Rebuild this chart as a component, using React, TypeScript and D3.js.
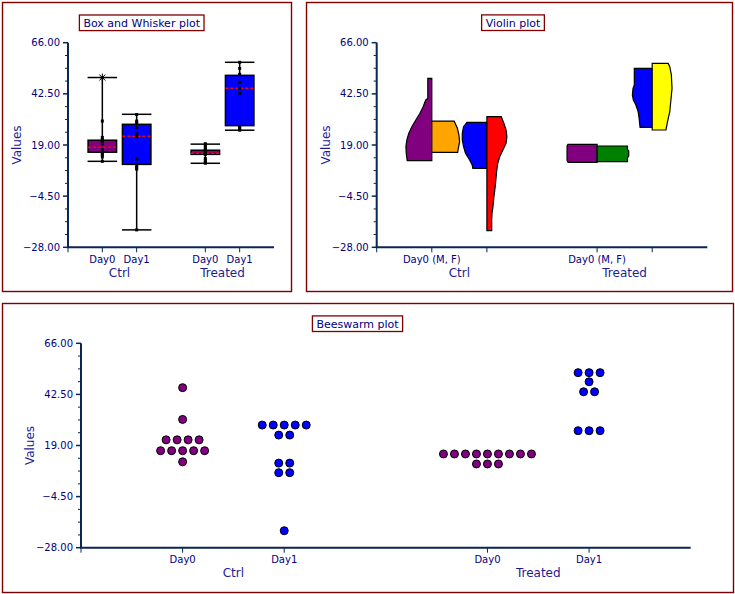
import React, { useLayoutEffect, useRef, useState } from 'react';
import * as d3 from 'd3';

// ---------- data ----------
const yTicks = [-28, -4.5, 19, 42.5, 66];
const groups = ['Ctrl', 'Treated'];
const days = ['Day0', 'Day1'];

// box & whisker statistics (Ctrl Day0, Ctrl Day1, Treated Day0, Treated Day1)
const boxLow = [11.5, -20, 10.6, 25.8];
const boxQ1 = [15.7, 10.1, 14.7, 27.9];
const boxMedian = [18.0, 23.0, 15.2, 45.1];
const boxQ3 = [21.2, 28.5, 16.6, 51.0];
const boxHigh = [50, 33.1, 19.4, 57];
const boxOutliers = [[50], [], [], []];

const pointsCtrlDay0 = [50, 30, 22.5, 21.5, 20.5, 19.5, 17, 16, 15, 14.5, 13.5, 11.5];
const pointsCtrlDay1 = [33, 30, 29.2, 27.1, 24.2, 23.5, 22.8, 12.4, 9.3, 8.6, 7.9, -20];
const pointsTreatedDay0 = [19.6, 18.8, 17.8, 17.0, 16.4, 15.8, 15.2, 14.7, 12.8, 11.8, 11.0, 10.6];
const pointsTreatedDay1 = [57, 54.2, 51.5, 47.8, 45.1, 42.8, 27.3, 26.5, 25.8];
const boxPoints = [pointsCtrlDay0, pointsCtrlDay1, pointsTreatedDay0, pointsTreatedDay1];

// violin density profiles [value, relative density] for M (left) and F (right) halves
const violinCtrlDay0M: [number, number][] = [[49.6, 0.125], [40.4, 0.125], [39.7, 0.19], [36.6, 0.27], [33.5, 0.375], [30.5, 0.5], [27.4, 0.625], [24.4, 0.72], [21.3, 0.78], [18.3, 0.81], [15.2, 0.8], [11.8, 0.77]];
const violinCtrlDay0F: [number, number][] = [[30.0, 0.7], [29.0, 0.73], [26.7, 0.8], [23.6, 0.85], [20.5, 0.87], [17.5, 0.83], [15.6, 0.81]];
const violinCtrlDay1M: [number, number][] = [[29.4, 0.625], [27.4, 0.73], [24.4, 0.77], [21.3, 0.77], [18.3, 0.73], [15.2, 0.67], [12.1, 0.54], [9.8, 0.46], [8.3, 0.44]];
const violinCtrlDay1F: [number, number][] = [[32.0, 0.45], [29.0, 0.53], [25.9, 0.6], [22.8, 0.625], [19.8, 0.6], [16.7, 0.5], [13.6, 0.4], [10.6, 0.34], [7.5, 0.31], [4.5, 0.29], [-0.1, 0.26], [-4.7, 0.22], [-9.3, 0.19], [-12.4, 0.16], [-15.4, 0.15], [-20.3, 0.15]];
const violinTreatedDay0M: [number, number][] = [[19.3, 0.91], [18.5, 0.94], [12.0, 0.94], [11.05, 0.91]];
const violinTreatedDay0F: [number, number][] = [[18.55, 0.95], [17.0, 0.95], [16.3, 0.99], [14.0, 0.99], [13.0, 0.95], [11.35, 0.95]];
const violinTreatedDay1M: [number, number][] = [[54.2, 0.56], [46.6, 0.56], [45.0, 0.6], [42.0, 0.62], [39.7, 0.59], [37.4, 0.51], [34.3, 0.44], [31.3, 0.41], [27.1, 0.38]];
const violinTreatedDay1F: [number, number][] = [[56.5, 0.5], [55.0, 0.55], [51.2, 0.6], [45.0, 0.62], [38.9, 0.58], [34.3, 0.55], [29.7, 0.48], [25.9, 0.43]];
const violinM = [violinCtrlDay0M, violinCtrlDay1M, violinTreatedDay0M, violinTreatedDay1M];
const violinF = [violinCtrlDay0F, violinCtrlDay1F, violinTreatedDay0F, violinTreatedDay1F];

// beeswarm rows [value, count]
const beeCtrlDay0: [number, number][] = [[45.6, 1], [31.0, 1], [21.6, 4], [16.6, 5], [11.5, 1]];
const beeCtrlDay1: [number, number][] = [[28.4, 5], [23.8, 2], [10.9, 2], [6.5, 2], [-20.2, 1]];
const beeTreatedDay0: [number, number][] = [[15.1, 9], [10.5, 3]];
const beeTreatedDay1: [number, number][] = [[52.5, 3], [48.3, 1], [43.7, 2], [25.8, 3]];
const beeRows = [beeCtrlDay0, beeCtrlDay1, beeTreatedDay0, beeTreatedDay1];

// ---------- styles ----------
const dayColors = ['#800080', '#0000ff'];
const femaleColors = ['#ffa500', '#ff0000', '#008000', '#ffff00'];
const navy = '#000080';
const axisColor = '#0a2656';
const frameColor = '#800000';
const labelColor = '#1c1c96';
const font = "'DejaVu Sans', Verdana, sans-serif";

const cats = groups.flatMap((g, gi) => days.map((d, di) => ({ g, gi, d, di, idx: gi * 2 + di, slot: gi * 3 + di + 1 })));

type Lin = d3.ScaleLinear<number, number>;

function TitleBox({ cx, cy, text }: { cx: number; cy: number; text: string }) {
  const ref = useRef<SVGTextElement>(null);
  const [w, setW] = useState(text.length * 6);
  useLayoutEffect(() => {
    if (ref.current) setW(ref.current.getComputedTextLength());
  }, [text]);
  return (
    <g>
      <rect x={cx - w / 2 - 4} y={cy - 7.8} width={w + 8} height={15.6} fill="#fff" stroke={frameColor} strokeWidth={1.3} />
      <text ref={ref} x={cx} y={cy + 4} textAnchor="middle" fontSize={11} fill={navy}>{text}</text>
    </g>
  );
}

function Axes({ x, y, catLabel }: { x: Lin; y: Lin; catLabel: (c: typeof cats[number]) => string | null }) {
  const [x0, x1] = x.range();
  const [yb, yt] = y.range();
  const minor = d3.pairs(yTicks).flatMap(([a, b]) => [1, 2, 3].map((k) => a + ((b - a) * k) / 4));
  const fmt = d3.format('.2f');
  return (
    <g>
      {minor.map((t, i) => (
        <line key={'m' + i} x1={x0 - 3} x2={x0} y1={y(t)} y2={y(t)} stroke={axisColor} strokeWidth={1} />
      ))}
      {yTicks.map((t) => (
        <g key={t}>
          <line x1={x0 - 5} x2={x0} y1={y(t)} y2={y(t)} stroke={axisColor} strokeWidth={1.5} />
          <text x={x0 - 8} y={y(t) + 3.6} textAnchor="end" fontSize={10} fill={navy}>{fmt(t)}</text>
        </g>
      ))}
      <line x1={x0} x2={x0} y1={yt} y2={yb} stroke={axisColor} strokeWidth={2} />
      <line x1={x0 - 1} x2={x1} y1={yb} y2={yb} stroke={axisColor} strokeWidth={2} />
      <line x1={x0} x2={x0} y1={yb} y2={yb + 5} stroke={axisColor} strokeWidth={1} />
      {cats.map((c) => (
        <g key={c.idx}>
          <line x1={x(c.slot)} x2={x(c.slot)} y1={yb} y2={yb + 5} stroke={axisColor} strokeWidth={1} />
          {catLabel(c) && (
            <text x={x(c.slot)} y={yb + 15.7} textAnchor="middle" fontSize={10} fill={navy}>{catLabel(c)}</text>
          )}
        </g>
      ))}
      {groups.map((g, gi) => (
        <text key={g} x={(x(gi * 3 + 1) + x(gi * 3 + 2)) / 2} y={yb + 29.5} textAnchor="middle" fontSize={12} fill={labelColor}>{g}</text>
      ))}
      <text transform={`translate(${x0 - 47},${(yt + yb) / 2}) rotate(-90)`} textAnchor="middle" fontSize={12} fill={labelColor}>Values</text>
    </g>
  );
}

function BoxPanel() {
  const x = d3.scaleLinear().domain([0, 6]).range([68, 274]);
  const y = d3.scaleLinear().domain([-28, 66]).range([247.3, 42.7]);
  const step = x(1) - x(0);
  const bw = step * 0.83;
  return (
    <g>
      <rect x={2.5} y={2.5} width={289} height={289} fill="#fff" stroke={frameColor} strokeWidth={1.4} />
      <TitleBox cx={141.7} cy={22.8} text="Box and Whisker plot" />
      <Axes x={x} y={y} catLabel={(c) => c.d} />
      {cats.map((c) => {
        const i = c.idx;
        const cx = x(c.slot);
        const color = dayColors[c.di];
        return (
          <g key={i}>
            <line x1={cx} x2={cx} y1={y(boxLow[i])} y2={y(boxHigh[i])} stroke="#000" strokeWidth={1.5} />
            <line x1={cx - bw / 2 - 0.5} x2={cx + bw / 2 + 0.5} y1={y(boxLow[i])} y2={y(boxLow[i])} stroke="#000" strokeWidth={1.5} />
            <line x1={cx - bw / 2 - 0.5} x2={cx + bw / 2 + 0.5} y1={y(boxHigh[i])} y2={y(boxHigh[i])} stroke="#000" strokeWidth={1.5} />
            <rect x={cx - bw / 2} y={y(boxQ3[i])} width={bw} height={y(boxQ1[i]) - y(boxQ3[i])} fill={color} stroke="#000" strokeWidth={1.5} />
            <line x1={cx - bw / 2} x2={cx + bw / 2} y1={y(boxMedian[i])} y2={y(boxMedian[i])} stroke="#ff0000" strokeWidth={1.5} strokeDasharray="3,2" />
            {boxPoints[i].map((v, k) => (
              <rect key={k} x={cx - 1.5} y={y(v) - 1.5} width={3} height={3} fill="#000" />
            ))}
            {boxOutliers[i].map((v, k) => (
              <g key={'o' + k} stroke="#000" strokeWidth={1}>
                <line x1={cx - 4} x2={cx + 4} y1={y(v)} y2={y(v)} />
                <line x1={cx} x2={cx} y1={y(v) - 4} y2={y(v) + 4} />
                <line x1={cx - 3} x2={cx + 3} y1={y(v) - 3} y2={y(v) + 3} />
                <line x1={cx - 3} x2={cx + 3} y1={y(v) + 3} y2={y(v) - 3} />
              </g>
            ))}
          </g>
        );
      })}
    </g>
  );
}

function ViolinPanel() {
  const x = d3.scaleLinear().domain([0, 6]).range([376.7, 707.3]);
  const y = d3.scaleLinear().domain([-28, 66]).range([247.3, 42.7]);
  const step = x(1) - x(0);
  const ws = d3.scaleLinear().domain([0, 1]).range([0, step * 0.58]);
  return (
    <g>
      <rect x={306.5} y={2.5} width={426} height={289} fill="#fff" stroke={frameColor} strokeWidth={1.4} />
      <TitleBox cx={513} cy={22.7} text="Violin plot" />
      <Axes x={x} y={y} catLabel={(c) => (c.di === 0 ? `${c.d} (M, F)` : null)} />
      {cats.map((c) => {
        const i = c.idx;
        const cx = x(c.slot);
        const left = d3.area<[number, number]>().y((d) => y(d[0])).x0(cx).x1((d) => cx - ws(d[1]));
        const right = d3.area<[number, number]>().y((d) => y(d[0])).x0(cx).x1((d) => cx + ws(d[1]));
        return (
          <g key={i}>
            <path d={left(violinM[i]) || ''} fill={dayColors[c.di]} stroke="#000" strokeWidth={1.2} strokeLinejoin="miter" />
            <path d={right(violinF[i]) || ''} fill={femaleColors[i]} stroke="#000" strokeWidth={1.2} strokeLinejoin="miter" />
          </g>
        );
      })}
    </g>
  );
}

function BeePanel() {
  const x = d3.scaleLinear().domain([0, 6]).range([81, 690.7]);
  const y = d3.scaleLinear().domain([-28, 66]).range([547.7, 343.3]);
  const gap = 11;
  return (
    <g>
      <rect x={2.5} y={303.5} width={731} height={289} fill="#fff" stroke={frameColor} strokeWidth={1.4} />
      <TitleBox cx={357.5} cy={323.7} text="Beeswarm plot" />
      <Axes x={x} y={y} catLabel={(c) => c.d} />
      {cats.map((c) => {
        const i = c.idx;
        const cx = x(c.slot);
        return (
          <g key={i}>
            {beeRows[i].flatMap(([v, n], r) =>
              d3.range(n).map((k) => (
                <circle key={r + '-' + k} cx={cx + (k - (n - 1) / 2) * gap} cy={y(v)} r={4} fill={dayColors[c.di]} stroke="#000" strokeWidth={1} />
              ))
            )}
          </g>
        );
      })}
    </g>
  );
}

export default function App() {
  return (
    <svg width={735} height={594} style={{ position: 'absolute', left: 0, top: 0, display: 'block' }} fontFamily={font}>
      <rect x={0} y={0} width={735} height={594} fill="#fff" />
      <BoxPanel />
      <ViolinPanel />
      <BeePanel />
    </svg>
  );
}
